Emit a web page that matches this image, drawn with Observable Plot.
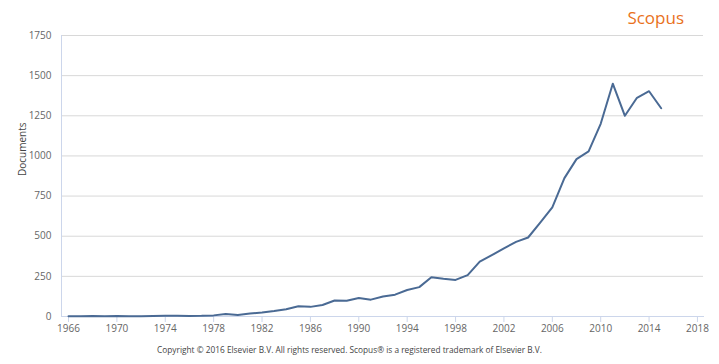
<!DOCTYPE html>
<html>
<head>
<meta charset="utf-8">
<script src="https://cdn.jsdelivr.net/npm/d3@7"></script>
<script src="https://cdn.jsdelivr.net/npm/@observablehq/plot@0.6"></script>
<style>
  html, body { margin: 0; padding: 0; background: #fff; }
  #wrap { position: relative; width: 719px; height: 364px; font-family: "Open Sans", sans-serif; }
  #brand { position: absolute; right: 35px; top: 6px; color: #e9711c; font-size: 17px; font-family: "Open Sans", sans-serif; }
  #credit { position: absolute; left: 0; width: 699px; text-align: center; top: 344px; color: #444; font-size: 8.3px; }
  #chart { position: absolute; left: 0; top: 0; }
</style>
</head>
<body>
<div id="wrap">
  <div id="chart"></div>
  <div id="brand">Scopus</div>
  <div id="credit">Copyright © 2016 Elsevier B.V. All rights reserved. Scopus® is a registered trademark of Elsevier B.V.</div>
</div>
<script>
const years = d3.range(1966, 2016);
const documents = [
  1, 1, 3, 1, 3, 1, 1, 3, 4, 4,
  3, 4, 7, 16, 10, 18, 25, 34, 45, 64,
  60, 72, 100, 98, 115, 105, 124, 136, 165, 183,
  245, 235, 228, 258, 342, 382, 424, 465, 492, 585,
  680, 862, 980, 1028, 1200, 1450, 1250, 1362, 1403, 1297
];
const xTicks = d3.range(1966, 2019, 4);
const yTicks = [0, 250, 500, 750, 1000, 1250, 1500, 1750];
const gridTicks = yTicks.slice(1);

const data = years.map((year, i) => ({ year, documents: documents[i] }));

const chart = Plot.plot({
  width: 719,
  height: 364,
  marginLeft: 61,
  marginRight: 16,
  marginTop: 35,
  marginBottom: 48,
  style: { fontFamily: "Open Sans, sans-serif", fontSize: "10px", background: "transparent" },
  x: { domain: [1965.42, 2018.5] },
  y: { domain: [0, 1750] },
  marks: [
    Plot.gridY(gridTicks, { stroke: "#d8d8d8", strokeOpacity: 1, strokeWidth: 1 }),
    Plot.frame({ anchor: "left", stroke: "#ccd6eb" }),
    Plot.frame({ anchor: "bottom", stroke: "#ccd6eb" }),
    Plot.axisY(yTicks, { tickSize: 0, tickPadding: 10, fill: "#666", label: null, tickFormat: d => String(d) }),
    Plot.axisX(xTicks, { tickSize: 6, tickPadding: 2, stroke: "#ccd6eb", fill: "#666", label: null, tickFormat: d => String(d) }),
    Plot.text(["Documents"], { frameAnchor: "left", rotate: -90, dx: -39, fill: "#444", fontSize: 10 }),
    Plot.line(data, { x: "year", y: "documents", stroke: "#4a6a94", strokeWidth: 2, curve: "linear" })
  ]
});
document.getElementById("chart").appendChild(chart);
</script>
</body>
</html>
